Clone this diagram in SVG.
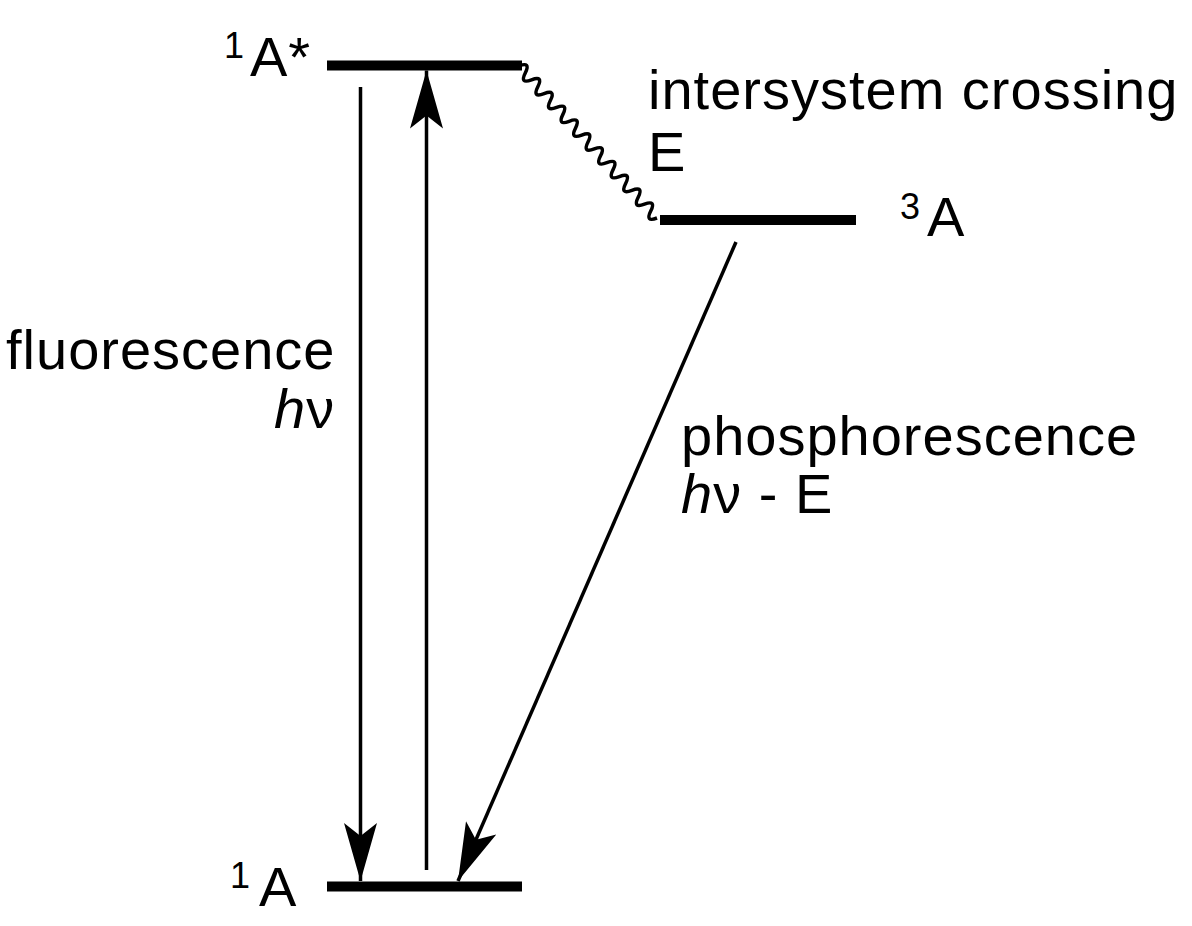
<svg xmlns="http://www.w3.org/2000/svg" width="1192" height="926" viewBox="0 0 1192 926">
<style>
text{font-family:"Liberation Sans",Arial,sans-serif;font-size:56px;fill:#000;letter-spacing:1px}
.sup{font-size:36px}
.it{font-style:italic}
.level{stroke:#000;stroke-width:10;fill:none}
.arrow{stroke:#000;stroke-width:3.5;fill:none}
.wave{stroke:#000;stroke-width:3.5;fill:none}
</style>
<defs>
<marker id="head" markerUnits="userSpaceOnUse" markerWidth="70" markerHeight="40" viewBox="-60 -20 62 40" refX="0" refY="0" orient="auto">
<path d="M0,0 L-58,-16.5 L-45,0 L-58,16.5 Z" fill="#000"/>
</marker>
</defs>
<g id="level-1Astar">
<line class="level" x1="327" y1="65.5" x2="522" y2="65.5"/>
<text y="76"><tspan class="sup" x="224" y="58">1</tspan><tspan x="250" y="76">A*</tspan></text>
</g>
<g id="level-3A">
<line class="level" x1="660" y1="220" x2="856" y2="220"/>
<text y="236"><tspan class="sup" x="900" y="219">3</tspan><tspan x="927" y="236">A</tspan></text>
</g>
<g id="level-1A">
<line class="level" x1="327" y1="886.5" x2="522" y2="886.5"/>
<text y="906"><tspan class="sup" x="230" y="888">1</tspan><tspan x="259" y="906">A</tspan></text>
</g>
<g id="label-isc">
<text x="648" y="109">intersystem crossing</text>
<text x="648" y="171">E</text>
</g>
<g id="label-fluorescence">
<text x="6" y="369">fluorescence</text>
<text x="274" y="428"><tspan class="it">h</tspan>ν</text>
</g>
<g id="label-phosphorescence">
<text x="681" y="455">phosphorescence</text>
<text x="681" y="513"><tspan class="it">h</tspan>ν - E</text>
</g>
<g id="connectors">
<line class="arrow" x1="360.5" y1="87" x2="360.5" y2="881" marker-end="url(#head)"/>
<line class="arrow" x1="426.5" y1="870" x2="426.5" y2="70.5" marker-end="url(#head)"/>
<line class="arrow" x1="736" y1="242" x2="458" y2="881" marker-end="url(#head)"/>
<path class="wave" d="M519,66 q12.02,-4.611 6.273,6.909 t6.273,6.909 t6.273,6.909 t6.273,6.909 t6.273,6.909 t6.273,6.909 t6.273,6.909 t6.273,6.909 t6.273,6.909 t6.273,6.909 t6.273,6.909 t6.273,6.909 t6.273,6.909 t6.273,6.909 t6.273,6.909 t6.273,6.909 t6.273,6.909 t6.273,6.909 t6.273,6.909 t6.273,6.909 t6.273,6.909 t6.273,6.909"/>
</g>
</svg>
